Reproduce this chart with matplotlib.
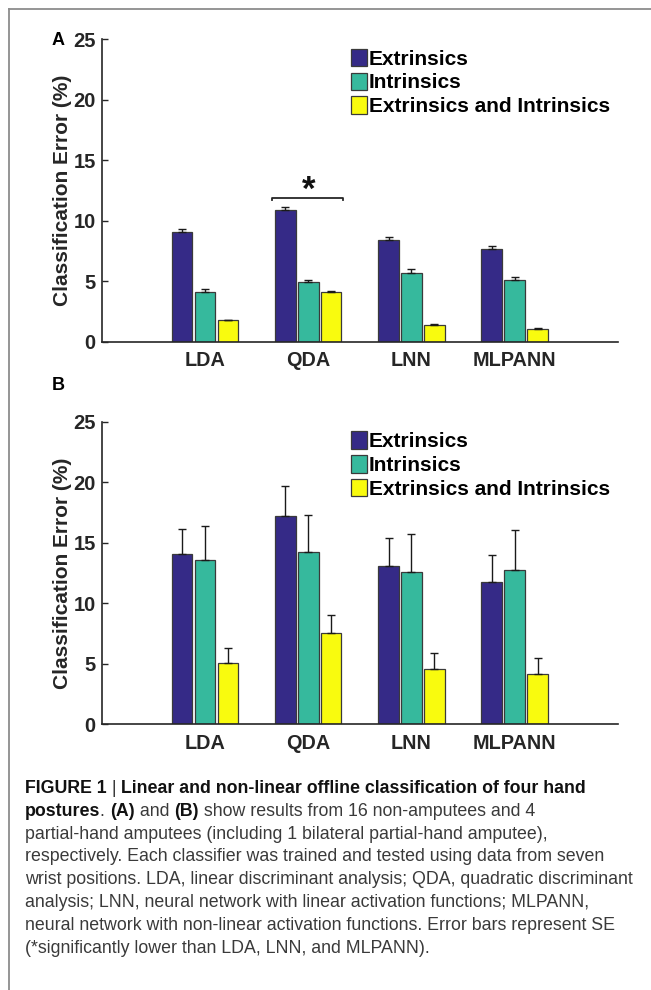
#!/usr/bin/env python3
import numpy as np
from matplotlib import pyplot as plt
from matplotlib.lines import Line2D


CATEGORIES = ['LDA', 'QDA', 'LNN', 'MLPANN']
SERIES = ['Extrinsics', 'Intrinsics', 'Extrinsics and Intrinsics']
COLORS = ['#352a87', '#36b99d', '#f9fb0e']

# panel A: 16 non-amputees (mean, SE)
A_EXT = [9.07, 10.88, 8.42, 7.65]
A_EXT_SE = [0.24, 0.25, 0.25, 0.25]
A_INT = [4.13, 4.97, 5.70, 5.09]
A_INT_SE = [0.20, 0.16, 0.30, 0.25]
A_BOTH = [1.77, 4.08, 1.38, 1.05]
A_BOTH_SE = [0.06, 0.12, 0.08, 0.05]

# panel B: partial-hand amputees (mean, SE)
B_EXT = [14.07, 17.21, 13.08, 11.76]
B_EXT_SE = [2.09, 2.50, 2.28, 2.23]
B_INT = [13.60, 14.21, 12.55, 12.78]
B_INT_SE = [2.75, 3.11, 3.14, 3.30]
B_BOTH = [5.07, 7.57, 4.57, 4.18]
B_BOTH_SE = [1.21, 1.49, 1.35, 1.27]

YTICKS = [0, 5, 10, 15, 20, 25]
SIG_GROUP = 'QDA'
SIG_LEVEL = 11.9

CAPTION = [
    [("FIGURE 1", True), (" | ", False),
     ("Linear and non-linear offline classification of four hand", True)],
    [("postures", True), (". ", False), ("(A)", True), (" and ", False),
     ("(B)", True), (" show results from 16 non-amputees and 4", False)],
    [("partial-hand amputees (including 1 bilateral partial-hand amputee),", False)],
    [("respectively. Each classifier was trained and tested using data from seven", False)],
    [("wrist positions. LDA, linear discriminant analysis; QDA, quadratic discriminant", False)],
    [("analysis; LNN, neural network with linear activation functions; MLPANN,", False)],
    [("neural network with non-linear activation functions. Error bars represent SE", False)],
    [("(*significantly lower than LDA, LNN, and MLPANN).", False)],
]

W, H = 651, 990
BAR_W = 0.2
OFFSETS = [-0.222, 0.0, 0.222]
INK = '#262626'


def draw_panel(ax, vals, errs):
    x = np.arange(1, len(CATEGORIES) + 1)
    handles = []
    for k, (v, e) in enumerate(zip(vals, errs)):
        pos = x + OFFSETS[k]
        h = ax.bar(pos, v, width=BAR_W, color=COLORS[k], edgecolor='#3a3a3a',
                   linewidth=0.9, label=SERIES[k], zorder=2)
        ax.errorbar(pos, v, yerr=[np.zeros(len(e)), e], fmt='none',
                    ecolor='#1a1a1a', elinewidth=1.0, capsize=3, capthick=1.0,
                    zorder=3)
        handles.append(h)

    ax.set_xlim(0, 5)
    ax.set_ylim(0, 25)
    ax.set_yticks(YTICKS)
    ax.set_yticklabels([str(t) for t in YTICKS], fontsize=14.5, fontweight='bold',
                       color=INK)
    ax.set_xticks(x)
    ax.set_xticklabels(CATEGORIES, fontsize=14.3, fontweight='bold', color=INK)
    ax.tick_params(axis='y', direction='in', length=4, width=1, pad=4.3, colors=INK)
    ax.tick_params(axis='x', length=0, pad=7)
    for s in ('top', 'right'):
        ax.spines[s].set_visible(False)
    for s in ('left', 'bottom'):
        ax.spines[s].set_color(INK)
        ax.spines[s].set_linewidth(1.2)
    ax.set_ylabel('Classification Error (%)', fontsize=15, fontweight='bold',
                  color=INK, labelpad=1)
    ax.legend(handles=handles, loc='upper left', bbox_to_anchor=(0.482, 0.968),
              frameon=False, prop={'size': 15, 'weight': 'bold'},
              handlelength=0.77, handleheight=0.91, handletextpad=0.12,
              labelspacing=0.19, borderpad=0, borderaxespad=0)


def main():
    plt.rcParams['font.family'] = ['Liberation Sans', 'DejaVu Sans']
    fig = plt.figure(figsize=(W / 100, H / 100), dpi=100)

    left, width = 101.7 / W, 516.3 / W
    ax_a = fig.add_axes([left, 1 - 341.7 / H, width, 302.7 / H])
    ax_b = fig.add_axes([left, 1 - 724.3 / H, width, 302.7 / H])

    draw_panel(ax_a, [A_EXT, A_INT, A_BOTH], [A_EXT_SE, A_INT_SE, A_BOTH_SE])
    draw_panel(ax_b, [B_EXT, B_INT, B_BOTH], [B_EXT_SE, B_INT_SE, B_BOTH_SE])

    # significance bracket over the QDA group in panel A
    gx = CATEGORIES.index(SIG_GROUP) + 1
    lo, hi = gx + OFFSETS[0] - 0.128, gx + OFFSETS[2] + 0.115
    ax_a.plot([lo, lo, hi, hi], [SIG_LEVEL - 0.2, SIG_LEVEL, SIG_LEVEL, SIG_LEVEL - 0.2],
              color=INK, lw=1.3, zorder=3, clip_on=False)
    ax_a.text(gx, SIG_LEVEL - 0.2, '*', ha='center', va='baseline', fontsize=25,
              fontweight='bold', color='#111111')

    fig.text(52 / W, 1 - 31.6 / H, 'A', fontsize=13, fontweight='bold', va='top')
    fig.text(52 / W, 1 - 376.6 / H, 'B', fontsize=13, fontweight='bold', va='top')

    # caption, built segment by segment so bold runs sit inline
    for i, line in enumerate(CAPTION):
        y = 1 - (797 + i * 22.8) / H
        prev = None
        for text, bold in line:
            kw = dict(fontsize=12.8, fontweight='bold' if bold else 'normal',
                      color='#111111' if bold else '#3a3a3a', va='bottom', ha='left')
            if prev is None:
                prev = fig.text(25 / W, y, text, **kw)
            else:
                prev = ax_b.annotate(text, xy=(1, 0), xycoords=prev,
                                     annotation_clip=False, **kw)

    # frame around the figure (left and top edges)
    fig.add_artist(Line2D([9.3 / W, 9.3 / W], [0, 1 - 9.3 / H],
                          transform=fig.transFigure, color='#8c8c8c', lw=1.3))
    fig.add_artist(Line2D([9.3 / W, 1], [1 - 9.3 / H, 1 - 9.3 / H],
                          transform=fig.transFigure, color='#8c8c8c', lw=1.3))

    fig.savefig('out.png', dpi=100)
    plt.close(fig)


if __name__ == '__main__':
    main()
